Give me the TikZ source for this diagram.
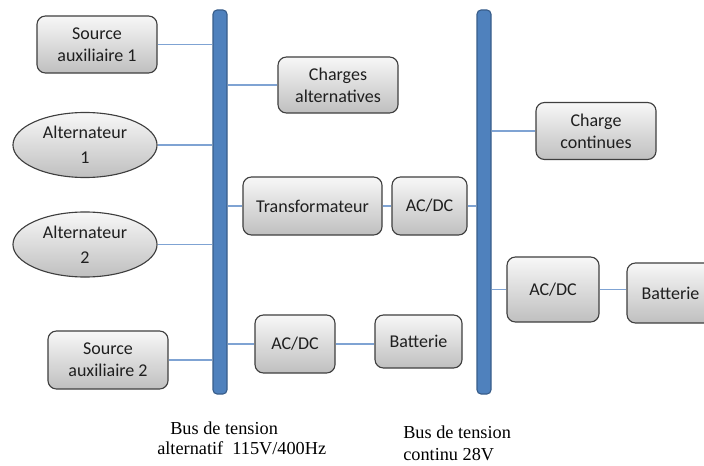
\documentclass[tikz,border=0pt]{standalone}
\usepackage{fontspec}
\setmainfont{Liberation Serif}
\newfontfamily\blocfont{Carlito}
\usetikzlibrary{shapes.geometric}

\definecolor{busblue}{HTML}{4F81BD}
\definecolor{busedge}{HTML}{385D8A}
\definecolor{linkblue}{HTML}{7FA3D3}
\definecolor{blocedge}{HTML}{3F3F3F}
\definecolor{blocink}{HTML}{1F1F1F}

\begin{document}
\begin{tikzpicture}[x=0.025cm,y=-0.025cm]
    \tikzstyle{every node}+=[inner sep=0pt]
    \tikzstyle{bloc}=[draw=blocedge, line width=0.8pt, rounded corners=6pt,
      top color=gray!6, bottom color=gray!50, text=blocink, align=center,
      font=\blocfont\fontsize{12.8}{15.5}\selectfont]
    \tikzstyle{alter}=[bloc, ellipse, font=\blocfont\fontsize{12.8}{17.7}\selectfont]
    \tikzstyle{bus}=[draw=busedge, fill=busblue, line width=0.8pt, rounded corners=3pt,
      minimum width=0.35cm, minimum height=9.6cm]
    \tikzstyle{link}=[linkblue, line width=0.8pt]
    \useasboundingbox (0,0) rectangle (704,466);
    % bus
    \node [bus] (acbus) at (220,202) {};
    \node [bus] (dcbus) at (484,202) {};
    % cote alternatif
    \node [bloc, minimum width=3cm, minimum height=1.425cm] (src1) at (97,44.5) {Source\\auxiliaire 1};
    \node [alter, minimum width=3.6cm, minimum height=1.625cm] (alt1) at (85,145) {Alternateur\\1};
    \node [alter, minimum width=3.6cm, minimum height=1.625cm] (alt2) at (85,244.5) {Alternateur\\2};
    \node [bloc, minimum width=3cm, minimum height=1.45cm] (src2) at (108,360) {Source\\auxiliaire 2};
    \node [bloc, minimum width=3cm, minimum height=1.4cm] (chalt) at (338,85) {Charges\\alternatives};
    \node [bloc, minimum width=3.475cm, minimum height=1.45cm] (transfo) at (312.5,206) {Transformateur};
    \node [bloc, minimum width=1.875cm, minimum height=1.45cm] (acdc1) at (429.5,206) {AC/DC};
    \node [bloc, minimum width=2cm, minimum height=1.45cm] (acdc2) at (295,344) {AC/DC};
    \node [bloc, minimum width=2.175cm, minimum height=1.325cm] (bat1) at (418.5,341.5) {Batterie};
    % cote continu
    \node [bloc, minimum width=3cm, minimum height=1.425cm] (chcont) at (596,131) {Charge\\continues};
    \node [bloc, minimum width=2.3cm, minimum height=1.625cm] (acdc3) at (553,289.5) {AC/DC};
    \node [bloc, minimum width=2.175cm, minimum height=1.5cm] (bat2) at (670.5,293) {Batterie};
    % liaisons
    \draw [link] (src1.east) -- (src1.east -| acbus.west);
    \draw [link] (alt1.east) -- (alt1.east -| acbus.west);
    \draw [link] (alt2.east) -- (alt2.east -| acbus.west);
    \draw [link] (src2.east) -- (src2.east -| acbus.west);
    \draw [link] (chalt.west -| acbus.east) -- (chalt.west);
    \draw [link] (transfo.west -| acbus.east) -- (transfo.west);
    \draw [link] (transfo.east) -- (acdc1.west);
    \draw [link] (acdc1.east) -- (acdc1.east -| dcbus.west);
    \draw [link] (acdc2.west -| acbus.east) -- (acdc2.west);
    \draw [link] (acdc2.east) -- (acdc2.east -| bat1.west);
    \draw [link] (chcont.west -| dcbus.east) -- (chcont.west);
    \draw [link] (acdc3.west -| dcbus.east) -- (acdc3.west);
    \draw [link] (acdc3.east) -- (acdc3.east -| bat2.west);
    % legendes
    \node [anchor=west, font=\fontsize{13}{14}\selectfont] (aclab1) at (170,428) {Bus de tension};
    \node [anchor=west, font=\fontsize{13}{14}\selectfont] (aclab2) at (157,448) {alternatif~ 115V/400Hz};
    \node [anchor=north west, align=left, font=\fontsize{13}{15.6}\selectfont] (dclab) at (403,426) {Bus de tension\\continu 28V};
\end{tikzpicture}
\end{document}
